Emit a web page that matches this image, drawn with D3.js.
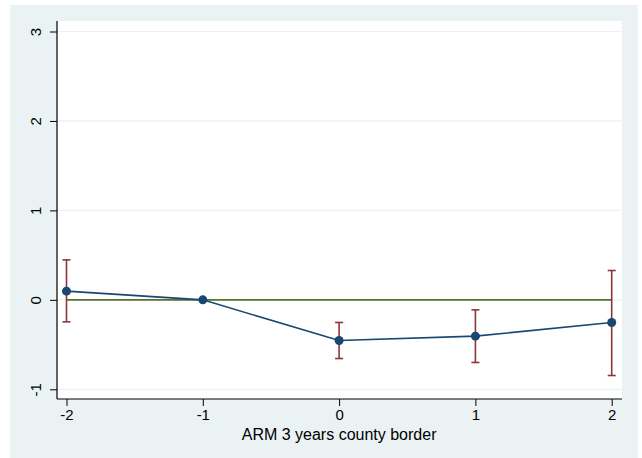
<!DOCTYPE html>
<html><head><meta charset="utf-8">
<script src="https://cdn.jsdelivr.net/npm/d3@7"></script>
<style>body{margin:0;background:#fff}svg{display:block}text{font-family:"Liberation Sans",Arial,Helvetica,sans-serif;fill:#000}</style>
</head><body><svg id="c" width="642" height="458"></svg>
<script>
const xValues = [-2, -1, 0, 1, 2];
const estimates = [0.097, 0, -0.455, -0.406, -0.253];
const ciLow = [-0.246, 0, -0.656, -0.70, -0.846];
const ciHigh = [0.447, 0, -0.253, -0.112, 0.328];
const hasCI = [true, false, true, true, true];
const yTicks = [-1, 0, 1, 2, 3];
const xTicks = [-2, -1, 0, 1, 2];
const xTitle = "ARM 3 years county border";

const svg = d3.select("#c");
svg.append("rect").attr("x",10).attr("y",5).attr("width",628).attr("height",453).attr("fill","#eaf2f3");
const L=57, R=622, T=21, B=399;
svg.append("rect").attr("x",L).attr("y",T).attr("width",R-L).attr("height",B-T).attr("fill","#fff");

const x = d3.scaleLinear().domain([-2,2]).range([66.5,611.7]);
const y = d3.scaleLinear().domain([-1,3]).range([389.3,31.5]);
const fmt = d => String(d);

// gridlines
svg.append("g").selectAll("line").data(yTicks).join("line")
  .attr("x1",L).attr("x2",R).attr("y1",d=>y(d)).attr("y2",d=>y(d))
  .attr("stroke","#eaf2f3").attr("stroke-width",1.2);

// zero line
svg.append("line").attr("x1",x(-2)).attr("x2",x(2)).attr("y1",y(0)).attr("y2",y(0))
  .attr("stroke","#55752f").attr("stroke-width",1.6);

// axes
const yAxis = svg.append("g").attr("transform",`translate(${L},0)`)
  .call(d3.axisLeft(y).tickValues(yTicks).tickSize(7).tickPadding(6).tickFormat(fmt));
yAxis.select(".domain").attr("d",`M0,${T}V${B}`).attr("stroke","#000").attr("stroke-width",1.2);
yAxis.selectAll(".tick line").attr("stroke","#000");
yAxis.selectAll(".tick text").style("font-size","15px").attr("text-anchor","middle")
  .attr("x",0).attr("dy",0).attr("transform","translate(-20,0) rotate(-90)").attr("dominant-baseline","middle");

const xAxis = svg.append("g").attr("transform",`translate(0,${B})`)
  .call(d3.axisBottom(x).tickValues(xTicks).tickSize(7).tickPadding(3).tickFormat(fmt));
xAxis.select(".domain").attr("d",`M${L},0H${R}`).attr("stroke","#000").attr("stroke-width",1.2);
xAxis.selectAll(".tick line").attr("stroke","#000");
xAxis.selectAll(".tick text").style("font-size","15px");

svg.append("text").attr("x",x(0)).attr("y",440).attr("text-anchor","middle").style("font-size","16px").text(xTitle);

// CIs
const ci = svg.append("g").attr("stroke","#90353b").attr("stroke-width",1.6);
xValues.forEach((v,i)=>{
  if(!hasCI[i]) return;
  ci.append("line").attr("x1",x(v)).attr("x2",x(v)).attr("y1",y(ciLow[i])).attr("y2",y(ciHigh[i]));
  ci.append("line").attr("x1",x(v)-4).attr("x2",x(v)+4).attr("y1",y(ciLow[i])).attr("y2",y(ciLow[i]));
  ci.append("line").attr("x1",x(v)-4).attr("x2",x(v)+4).attr("y1",y(ciHigh[i])).attr("y2",y(ciHigh[i]));
});

// line + markers
const pts = xValues.map((v,i)=>[v,estimates[i]]);
svg.append("path").datum(pts).attr("fill","none").attr("stroke","#1a476f").attr("stroke-width",1.6)
  .attr("d",d3.line().x(d=>x(d[0])).y(d=>y(d[1])));
svg.append("g").selectAll("circle").data(pts).join("circle")
  .attr("cx",d=>x(d[0])).attr("cy",d=>y(d[1])).attr("r",4.5).attr("fill","#1a476f");
</script></body></html>
